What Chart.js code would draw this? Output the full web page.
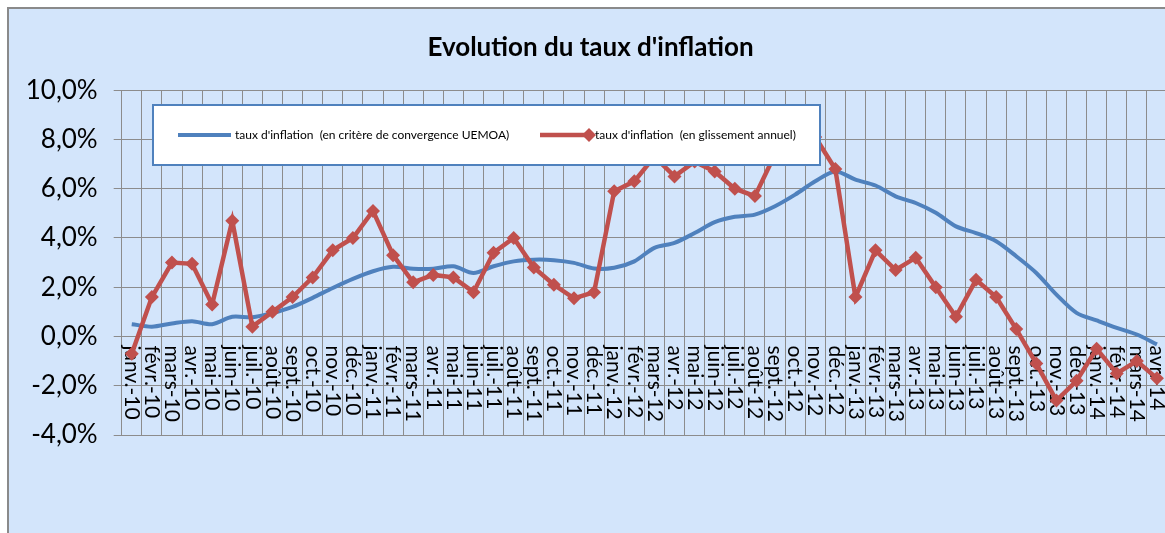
<!DOCTYPE html>
<html><head><meta charset="utf-8">
<script src="https://cdn.jsdelivr.net/npm/chart.js@4.4.1/dist/chart.umd.min.js"></script>
<style>
html,body{margin:0;padding:0;background:#fff;overflow:hidden;width:1165px;height:533px;}
#frame{position:absolute;left:7px;top:7px;width:1167px;height:540px;border:2px solid #8a8a8a;background:#d3e5fb;}
#wrap{position:absolute;left:0;top:0;width:1165px;height:540px;}
</style></head><body>
<div id="frame"><div id="wrap"><canvas id="c" width="1165" height="540"></canvas></div></div>
<script>
const categories = [
 'janv.-10','févr.-10','mars-10','avr.-10','mai-10','juin-10','juil.-10','août-10','sept.-10','oct.-10','nov.-10','déc.-10',
 'janv.-11','févr.-11','mars-11','avr.-11','mai-11','juin-11','juil.-11','août-11','sept.-11','oct.-11','nov.-11','déc.-11',
 'janv.-12','févr.-12','mars-12','avr.-12','mai-12','juin-12','juil.-12','août-12','sept.-12','oct.-12','nov.-12','déc.-12',
 'janv.-13','févr.-13','mars-13','avr.-13','mai-13','juin-13','juil.-13','août-13','sept.-13','oct.-13','nov.-13','déc.-13',
 'janv.-14','févr.-14','mars-14','avr.-14'
];
const critereUEMOA = [
 0.5, 0.4, 0.53, 0.62, 0.5, 0.8, 0.78, 0.95, 1.2, 1.57, 1.97, 2.34,
 2.65, 2.83, 2.75, 2.75, 2.85, 2.58, 2.85, 3.05, 3.12, 3.1, 2.99, 2.76,
 2.79, 3.05, 3.6, 3.8, 4.2, 4.64, 4.86, 4.95, 5.29, 5.76, 6.3, 6.7,
 6.37, 6.13, 5.69, 5.42, 5.02, 4.47, 4.2, 3.87, 3.26, 2.58, 1.7, 0.96,
 0.65, 0.35, 0.08, -0.32
];
const glissementAnnuel = [
 -0.7, 1.6, 3.0, 2.95, 1.3, 4.7, 0.4, 1.0, 1.6, 2.4, 3.5, 4.0,
 5.1, 3.3, 2.2, 2.5, 2.4, 1.8, 3.4, 4.0, 2.8, 2.1, 1.55, 1.8,
 5.9, 6.3, 7.3, 6.5, 7.1, 6.7, 6.0, 5.7, 7.4, 7.7, 8.1, 6.8,
 1.6, 3.5, 2.7, 3.2, 2.0, 0.8, 2.3, 1.6, 0.3, -1.1, -2.6, -1.8,
 -0.5, -1.5, -1.0, -1.7
];
const yTicks = [-4, -2, 0, 2, 4, 6, 8, 10];
const seriesNames = ["taux d'inflation  (en critère de convergence UEMOA)", "taux d'inflation  (en glissement annuel)"];
const titleText = "Evolution du taux d'inflation";

const FONT = 'Lato, "Open Sans", sans-serif';
const BLUE = '#4F81BD', RED = '#C0504D', GRID = '#8c8c8c';

const xLabelPlugin = {
  id: 'xLabels',
  beforeDatasetsDraw(chart) {
    const ctx = chart.ctx, xs = chart.scales.x, ys = chart.scales.y;
    const y0 = ys.getPixelForValue(0);
    ctx.save();
    ctx.font = '21px ' + FONT;
    ctx.fillStyle = '#000';
    ctx.textAlign = 'left';
    ctx.textBaseline = 'middle';
    chart.data.labels.forEach((lab, i) => {
      const px = xs.getPixelForTick(i);
      ctx.save();
      ctx.translate(px, y0 + 9);
      ctx.rotate(Math.PI / 2);
      ctx.fillText(lab, 0, 0);
      ctx.restore();
    });
    ctx.restore();
  }
};

const legendPlugin = {
  id: 'boxLegend',
  afterDatasetsDraw(chart) {
    const ctx = chart.ctx;
    const bx = 144, by = 96, bw = 667, bh = 60, cy = by + 30;
    ctx.save();
    ctx.fillStyle = '#fff';
    ctx.fillRect(bx, by, bw, bh);
    ctx.strokeStyle = BLUE;
    ctx.lineWidth = 2;
    ctx.strokeRect(bx, by, bw, bh);
    const ds = chart.data.datasets;
    ctx.strokeStyle = ds[1].borderColor; ctx.lineWidth = 4; ctx.lineCap = 'butt';
    ctx.beginPath(); ctx.moveTo(169, cy); ctx.lineTo(222, cy); ctx.stroke();
    ctx.font = '12px ' + FONT; ctx.fillStyle = '#000'; ctx.textBaseline = 'middle'; ctx.textAlign = 'left';
    ctx.fillText(ds[1].label, 226, cy);
    ctx.strokeStyle = ds[0].borderColor; ctx.lineWidth = 4.5;
    ctx.beginPath(); ctx.moveTo(531, cy); ctx.lineTo(580, cy); ctx.stroke();
    ctx.fillStyle = ds[0].borderColor;
    ctx.beginPath(); ctx.moveTo(580, cy - 7); ctx.lineTo(587, cy); ctx.lineTo(580, cy + 7); ctx.lineTo(573, cy); ctx.closePath(); ctx.fill();
    ctx.fillStyle = '#000';
    ctx.fillText(ds[0].label, 586, cy);
    ctx.restore();
  }
};

function build() {
  new Chart(document.getElementById('c'), {
    type: 'line',
    data: {
      labels: categories,
      datasets: [
        { label: seriesNames[1], data: glissementAnnuel, borderColor: RED, backgroundColor: RED,
          borderWidth: 4.5, pointStyle: 'rectRot', pointRadius: 7, pointBorderWidth: 0,
          pointBackgroundColor: RED, tension: 0, order: 0 },
        { label: seriesNames[0], data: critereUEMOA, borderColor: BLUE, backgroundColor: BLUE,
          borderWidth: 4, pointRadius: 0, tension: 0.3, order: 1 }
      ]
    },
    options: {
      responsive: false, animation: false, devicePixelRatio: 1,
      layout: { padding: { left: 0, right: 2, top: 0, bottom: 114 } },
      plugins: {
        legend: { display: false },
        tooltip: { enabled: false },
        title: { display: true, text: titleText, color: '#000',
          font: { family: FONT, size: 26, weight: 'bold' }, padding: { top: 23, bottom: 27 } }
      },
      scales: {
        x: { type: 'category', offset: true,
          grid: { offset: true, color: GRID, drawTicks: false, lineWidth: 1 },
          border: { color: GRID },
          ticks: { display: false } },
        y: { min: -4, max: 10,
          afterBuildTicks(s) { s.ticks = yTicks.map(v => ({ value: v })); },
          afterFit(s) { s.width = 112.7; },
          ticks: { color: '#000', padding: 16, font: { family: FONT, size: 26 },
            callback: v => v.toFixed(1).replace('.', ',') + '%' },
          grid: { color: GRID, tickLength: 8, lineWidth: 1 },
          border: { color: GRID } }
      }
    },
    plugins: [xLabelPlugin, legendPlugin]
  });
}
const fontsReady = (document.fonts && document.fonts.load)
  ? Promise.all([document.fonts.load('20px Lato'), document.fonts.load('bold 25px Lato')]).catch(() => {})
  : Promise.resolve();
fontsReady.then(build, build);
</script>
</body></html>
